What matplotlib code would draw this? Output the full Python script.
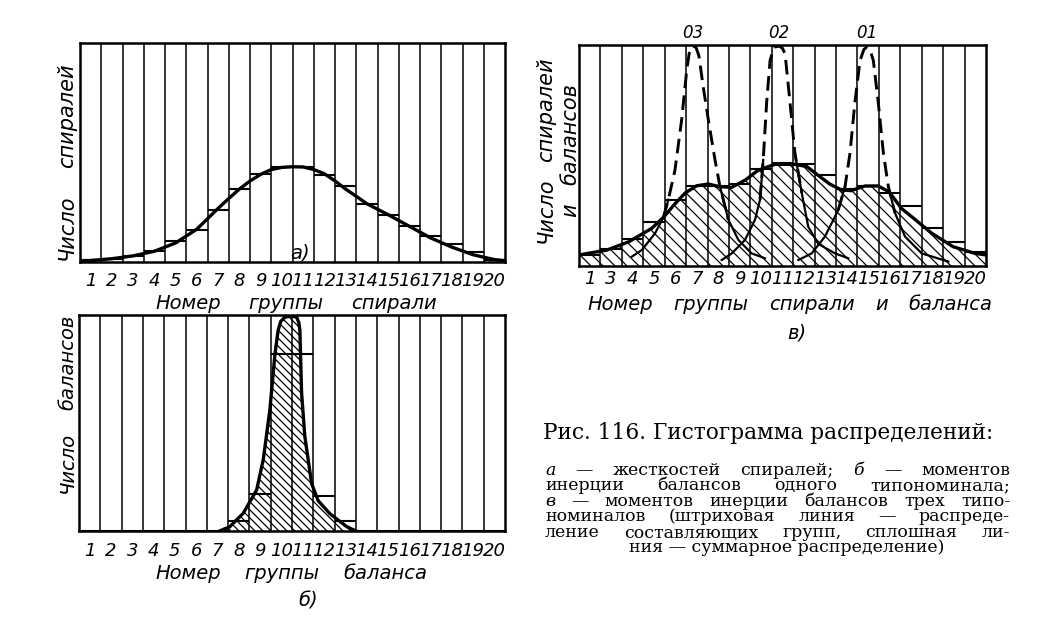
import numpy as np
import matplotlib
matplotlib.use('Agg')
import matplotlib.pyplot as plt
from matplotlib.collections import LineCollection

# --- данные (доли высоты поля) ---
groups_a = list(range(1, 21))
steps_a = [0.010, 0.014, 0.026, 0.050, 0.094, 0.148, 0.239, 0.333, 0.403, 0.434,
           0.434, 0.399, 0.349, 0.266, 0.216, 0.163, 0.120, 0.082, 0.044, 0.010]
curve_a_x = [0.5, 1, 2, 3, 4, 5, 6, 7, 7.5, 8, 8.5, 9, 9.5, 10, 10.5, 11, 11.5, 12,
             12.5, 13, 13.5, 14, 15, 16, 17, 18, 19, 20, 20.5]
curve_a_y = [0.005, 0.007, 0.015, 0.028, 0.049, 0.087, 0.150, 0.245, 0.290, 0.333,
             0.370, 0.400, 0.422, 0.432, 0.435, 0.434, 0.422, 0.403, 0.370, 0.333,
             0.300, 0.266, 0.216, 0.163, 0.110, 0.068, 0.033, 0.011, 0.006]

groups_b = list(range(1, 21))
steps_b = [0, 0, 0, 0, 0, 0, 0, 0.048, 0.17, 0.82, 0.82, 0.16, 0.045, 0, 0, 0, 0, 0, 0, 0]
curve_b_x = [7.1, 7.58, 8.21, 8.84, 9.15, 9.46, 9.7, 9.85, 9.97, 10.17, 10.45, 10.72,
             10.82, 10.87, 10.9, 10.95, 11.1, 11.42, 11.73, 12.28, 13.07, 13.5]
curve_b_y = [0.0, 0.02, 0.082, 0.19, 0.33, 0.56, 0.82, 0.93, 0.97, 0.99, 0.995, 0.99,
             0.965, 0.93, 0.82, 0.64, 0.44, 0.22, 0.14, 0.08, 0.02, 0.0]

labels_c = [1, 3, 4, 5, 6, 7, 8, 9, 10, 11, 12, 13, 14, 15, 16, 17, 18, 19, 20]
steps_c = [0.05, 0.075, 0.12, 0.20, 0.30, 0.36, 0.36, 0.37, 0.44, 0.465, 0.46, 0.41,
           0.35, 0.36, 0.33, 0.27, 0.17, 0.11, 0.065]
sum_c_x = [0.5, 1.8, 2.83, 3.89, 4.44, 4.93, 5.45, 5.99, 6.54, 7.05, 7.63, 8.28, 8.87,
           9.65, 10.58, 11.13, 11.67, 12.22, 12.76, 13.2, 13.85, 14.47, 14.97, 15.56,
           16.03, 16.97, 17.97, 18.99, 19.5]
sum_c_y = [0.05, 0.072, 0.11, 0.17, 0.22, 0.276, 0.33, 0.363, 0.371, 0.359, 0.356,
           0.39, 0.434, 0.46, 0.46, 0.45, 0.41, 0.37, 0.344, 0.341, 0.362, 0.362,
           0.336, 0.26, 0.223, 0.148, 0.087, 0.057, 0.05]
comp03_x = [2.96, 3.43, 4.05, 4.44, 4.67, 4.98, 5.29, 5.53, 5.64, 5.8, 5.96, 6.1, 6.3,
            6.54, 6.85, 7.08, 7.47, 7.94, 8.56, 9.18]
comp03_y = [0.042, 0.072, 0.148, 0.22, 0.30, 0.434, 0.66, 0.887, 0.96, 0.995, 0.99,
            0.95, 0.81, 0.66, 0.48, 0.36, 0.21, 0.118, 0.057, 0.035]
comp02_x = [7.16, 7.63, 8.25, 8.72, 8.95, 9.1, 9.26, 9.42, 9.6, 9.85, 10.0, 10.12,
            10.35, 10.58, 10.9, 11.2, 11.67, 12.45, 13.07]
comp02_y = [0.027, 0.057, 0.118, 0.21, 0.30, 0.48, 0.74, 0.93, 0.99, 0.995, 0.985,
            0.96, 0.74, 0.51, 0.33, 0.178, 0.10, 0.057, 0.035]
comp01_x = [10.74, 11.36, 11.98, 12.6, 12.92, 13.15, 13.38, 13.62, 13.8, 13.93, 14.08,
            14.24, 14.47, 14.71, 14.94, 15.25, 15.72, 16.5, 17.74]
comp01_y = [0.027, 0.057, 0.133, 0.253, 0.36, 0.51, 0.74, 0.93, 0.98, 0.99, 0.98,
            0.93, 0.74, 0.51, 0.36, 0.24, 0.133, 0.057, 0.02]
comp_names = ['03', '02', '01']

caption_title = 'Рис. 116. Гистограмма распределений:'
caption_lines = [
    'а — жесткостей спиралей; б — моментов',
    'инерции балансов одного типономинала;',
    'в — моментов инерции балансов трех типо-',
    'номиналов (штриховая линия — распреде-',
    'ление составляющих групп, сплошная ли-',
    'ния — суммарное распределение)',
]

FW, FH = 1047, 630
fig = plt.figure(figsize=(FW / 100, FH / 100), dpi=100)
fig.patch.set_facecolor('white')
rend = fig.canvas.get_renderer()

tick_font = dict(family=['Liberation Sans Narrow', 'DejaVu Sans'], style='italic', size=13)
lab_font = dict(family=['DejaVu Sans'], style='oblique', size=14)


def px(x, y):
    return x / FW, 1 - y / FH


def spread(words, start, end, base, vertical=False, styles=None, **kw):
    # слова по длине отрезка, промежутки поровну
    ts = []
    for i, w in enumerate(words):
        extra = {} if styles is None else {'style': styles[i]}
        if vertical:
            t = fig.text(*px(base, start), w, rotation=90, rotation_mode='anchor',
                         ha='left', va='baseline', **kw, **extra)
        else:
            t = fig.text(*px(start, base), w, ha='left', va='baseline', **kw, **extra)
        ts.append(t)
    ext = [t.get_window_extent(rend) for t in ts]
    lens = [e.height if vertical else e.width for e in ext]
    span = abs(end - start)
    gap = (span - sum(lens)) / max(len(words) - 1, 1)
    pos = 0
    for t, l in zip(ts, lens):
        if vertical:
            t.set_position(px(base, start - pos))
        else:
            t.set_position(px(start + pos, base))
        pos += l + gap


def frame(rect, pos, labels, pad):
    ax = fig.add_axes([rect[0] / FW, 1 - rect[3] / FH, (rect[2] - rect[0]) / FW,
                       (rect[3] - rect[1]) / FH])
    n = len(pos)
    ax.set_xlim(0.5, n + 0.5)
    ax.set_ylim(0, 1)
    ax.vlines(np.arange(1.5, n + 0.5), 0, 1, color='k', lw=1.1)
    ax.set_xticks(pos, [str(v) for v in labels])
    ax.set_yticks([])
    ax.tick_params(axis='x', length=0, pad=pad)
    for t in ax.get_xticklabels():
        t.set(**tick_font)
    for s in ax.spines.values():
        s.set_linewidth(1.8)
    return ax


def hatch_under(ax, x, y, step):
    # косая штриховка под кривой, шаг в пикселях
    poly = ax.fill_between(x, 0, y, facecolor='none', edgecolor='none', lw=0)
    bb = ax.get_window_extent(rend)
    k = bb.height / bb.width
    segs = [[(u, 1), (u + k, 0)] for u in np.arange(-k, 1, step / bb.width)]
    lc = LineCollection(segs, transform=ax.transAxes, colors='k', linewidths=0.9)
    ax.add_collection(lc, autolim=False)
    lc.set_clip_path(poly.get_paths()[0], ax.transData)


# --- а) ---
ax = frame((80, 43, 505, 262), groups_a, groups_a, 6.9)
g = np.array(groups_a)
ax.hlines(steps_a, g - 0.5, g + 0.5, color='k', lw=1.5)
ax.plot(curve_a_x, curve_a_y, color='k', lw=2.4, solid_joinstyle='round')
spread(['Номер', 'группы', 'спирали'], 155, 437, 309, **lab_font)
spread(['Число', 'спиралей'], 260, 63, 73, vertical=True, size=15,
       family=['DejaVu Sans'], style='oblique')
fig.text(*px(300, 253), 'а)', ha='center', va='center', **lab_font)

# --- б) ---
ax = frame((79, 315, 505, 531), groups_b, groups_b, 7.6)
g = np.array(groups_b)
hatch_under(ax, curve_b_x, curve_b_y, 8)
ax.hlines(steps_b, g - 0.5, g + 0.5, color='k', lw=1.5)
ax.plot(curve_b_x, curve_b_y, color='k', lw=2.4, solid_joinstyle='round')
spread(['Номер', 'группы', 'баланса'], 155, 427, 579, **lab_font)
spread(['Число', 'балансов'], 493, 315, 73, vertical=True, **lab_font)
fig.text(*px(308, 601), 'б)', ha='center', va='center', **lab_font)

# --- в) ---
pos_c = np.arange(1, len(labels_c) + 1)
ax = frame((579, 45, 986, 266), pos_c, labels_c, 2.6)
hatch_under(ax, sum_c_x, sum_c_y, 12)
ax.hlines(steps_c, pos_c - 0.5, pos_c + 0.5, color='k', lw=1.5)
ax.plot(sum_c_x, sum_c_y, color='k', lw=2.4, solid_joinstyle='round')
for name, cx, cy in zip(comp_names, [comp03_x, comp02_x, comp01_x],
                        [comp03_y, comp02_y, comp01_y]):
    cx = np.array(cx)
    cy = np.array(cy)
    above = cy > np.interp(cx, sum_c_x, sum_c_y)
    below = ~above
    near_above = above | np.r_[above[1:], False] | np.r_[False, above[:-1]]
    near_below = below | np.r_[below[1:], False] | np.r_[False, below[:-1]]
    ax.plot(cx, np.ma.masked_where(~near_above, cy), color='k', lw=2.1,
            linestyle=(0, (5, 2.5)))
    ax.plot(cx, np.ma.masked_where(~near_below, cy), color='k', lw=1.6)
    ax.text(cx[np.argmax(cy)], 1.054, name, ha='center', va='center',
            family='DejaVu Sans', style='oblique', size=12)
spread(['Номер', 'группы', 'спирали', 'и', 'баланса'], 587, 992, 310, **lab_font)
spread(['Число', 'спиралей'], 243, 57, 552, vertical=True, size=15,
       family=['DejaVu Sans'], style='oblique')
spread(['и', 'балансов'], 217, 83, 576, vertical=True, size=15,
       family=['DejaVu Sans'], style='oblique')
fig.text(*px(797, 333), 'в)', ha='center', va='center', **lab_font)

# --- подпись ---
t = fig.text(*px(543, 439), caption_title, ha='left', va='baseline',
             family='DejaVu Serif', size=14.5)
w = t.get_window_extent(rend).width
t.set_fontsize(14.5 * 452 / w)

baselines = [475, 490, 506, 521, 537, 552]
for line, yb in zip(caption_lines[:-1], baselines[:-1]):
    words = line.split()
    sty = ['italic' if w in ('а', 'б', 'в') else 'normal' for w in words]
    spread(words, 545, 1010, yb, styles=sty, family='DejaVu Serif', size=12.5)
fig.text(*px(787, baselines[-1]), caption_lines[-1], ha='center', va='baseline',
         family='DejaVu Serif', size=12.5)

fig.savefig('out.png', dpi=100, facecolor='white')
